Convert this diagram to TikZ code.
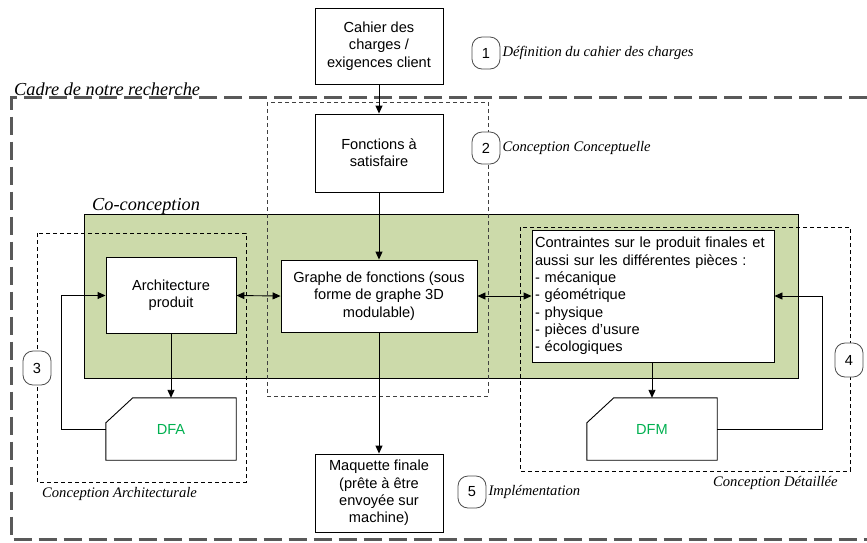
\documentclass[tikz,border=0pt]{standalone}
\usepackage{fontspec}
\setmainfont{Liberation Sans}
\newfontfamily\seriflbl{Liberation Serif}
\usepackage{xcolor}
\usetikzlibrary{arrows.meta, positioning, calc}
\definecolor{cogreen}{RGB}{204,218,170}
\definecolor{dfgreen}{RGB}{0,176,80}

\begin{document}
\begin{tikzpicture}[
    x=1pt, y=-1pt,
    box/.style={rectangle, draw, fill=white, line width=0.9pt, inner sep=0pt, align=center, font=\fontsize{14.6}{17.3}\selectfont},
    dfbox/.style={rectangle, inner sep=0pt, minimum width=130pt, minimum height=62pt, text=dfgreen, font=\fontsize{14.6}{17.3}\selectfont},
    phase/.style={rectangle, draw=black!70, line width=0.8pt, rounded corners=10pt, fill=white, minimum width=28pt, minimum height=32pt, inner sep=0pt, font=\fontsize{14.6}{17.3}\selectfont},
    lbl/.style={anchor=west, inner sep=0pt, font=\fontsize{14.6}{17}\selectfont\seriflbl\itshape},
    title/.style={anchor=west, inner sep=0pt, font=\fontsize{18.3}{20}\selectfont\seriflbl\itshape},
    arr/.style={-{Triangle[length=8pt, width=7pt]}, line width=0.9pt},
    darr/.style={{Triangle[length=8pt, width=7pt]}-{Triangle[length=8pt, width=7pt]}, line width=0.9pt},
    zone/.style={draw, line width=0.8pt, dash pattern=on 4pt off 3pt},
    frame/.style={draw=black!65, line width=3pt, dash pattern=on 18pt off 7pt}
]
\useasboundingbox (0,0) rectangle (867,542);

% Cadre de notre recherche
\draw[frame] (867,97.5) -- (11,97.5) -- (11,539) -- (867,539);
\node[title] (tcadre) at (14,89) {Cadre de notre recherche};

% Co-conception
\draw[line width=1pt, fill=cogreen] (84,214) rectangle (798,378);
\node[title] (tcoco) at (92,206) {Co-conception};

% phases (dashed zones)
\draw[zone, draw=black!75] (267,102) rectangle (488,396);
\draw[zone] (37,233) rectangle (246,482);
\draw[zone] (520,227) rectangle (850,471);

% main column
\node[box, minimum width=128pt, minimum height=76pt] (cahier) at (379,46) {Cahier des\\charges /\\exigences client};
\node[box, minimum width=128pt, minimum height=78pt] (fonct) at (379,153) {Fonctions à\\satisfaire};
\node[box, minimum width=196pt, minimum height=72pt] (graphe) at (379,296) {Graphe de fonctions (sous\\forme de graphe 3D\\modulable)};
\node[box, minimum width=128pt, minimum height=78pt] (maquette) at (379,493) {Maquette finale\\(prête à être\\envoyée sur\\machine)};

% left and right columns
\node[box, minimum width=130pt, minimum height=76pt] (archi) at (171,295.5) {Architecture\\produit};
\node[box, minimum width=242pt, minimum height=132pt, align=left, text width=236pt] (contr) at (653,296) {Contraintes sur le produit finales et\\aussi sur les différentes pièces :\\- mécanique\\- géométrique\\- physique\\- pièces d’usure\\- écologiques};

\node[dfbox] (dfa) at (171,429) {DFA};
\draw[line width=0.9pt] ($(dfa.north west)+(27,0)$) -- (dfa.north east) -- (dfa.south east) -- (dfa.south west) -- ($(dfa.north west)+(0,25)$) -- cycle;
\node[dfbox] (dfm) at (652,429) {DFM};
\draw[line width=0.9pt] ($(dfm.north west)+(27,0)$) -- (dfm.north east) -- (dfm.south east) -- (dfm.south west) -- ($(dfm.north west)+(0,25)$) -- cycle;

\draw[arr] (cahier) -- (fonct);
\draw[arr] (fonct) -- (graphe);
\draw[arr] (graphe) -- (maquette);
\draw[darr] (archi.east) -- (graphe.west);
\draw[darr] (graphe.east) -- (contr.west);
\draw[arr] (archi.south) -- (archi.south |- dfa.north);
\draw[arr] (contr.south -| dfm.north) -- (dfm.north);
\draw[arr] (dfa.west) -- ++(-44,0) |- (archi.west);
\draw[arr] (dfm.east) -- ++(105,0) |- (contr.east);

% phase numbers
\node[phase] (p1) at (486,53) {1};
\node[lbl, right=2pt of p1] (l1) {Définition du cahier des charges};
\node[phase] (p2) at (486,148) {2};
\node[lbl, right=2pt of p2] (l2) {Conception Conceptuelle};
\node[phase, minimum height=34pt] (p3) at (37,368) {3};
\node[lbl] (l3) at (42,494) {Conception Architecturale};
\node[phase, minimum height=34pt] (p4) at (849,360) {4};
\node[lbl] (l4) at (713,483) {Conception Détaillée};
\node[phase] (p5) at (472,492) {5};
\node[lbl, right=2pt of p5] (l5) {Implémentation};

\end{tikzpicture}
\end{document}
